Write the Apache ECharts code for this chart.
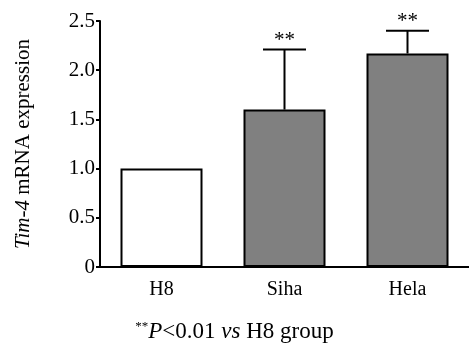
<!DOCTYPE html>
<html>
<head>
<meta charset="utf-8">
<script src="https://cdn.jsdelivr.net/npm/echarts@6/dist/echarts.min.js"></script>
<style>
html,body{margin:0;padding:0;background:#fff;}
#c{width:469px;height:346px;}
</style>
</head>
<body>
<div id="c"></div>
<script>
var categories = ['H8', 'Siha', 'Hela'];
var values = [1.0, 1.6, 2.17];
var errorsUp = [0, 0.61, 0.23];
var sigLabels = ['', '**', '**'];
var barColors = ['#ffffff', '#808080', '#808080'];
var yTickMin = 0, yTickMax = 2.5, yTickStep = 0.5;

var FONT = '"Liberation Serif", "Times New Roman", serif';
var chart = echarts.init(document.getElementById('c'));

var errData = categories.map(function (c, i) { return [i, values[i], errorsUp[i], sigLabels[i]]; });

chart.setOption({
  animation: false,
  backgroundColor: '#fff',
  grid: { left: 100, top: 21, bottom: 79, width: 372 },
  xAxis: {
    type: 'category',
    data: categories,
    axisLine: { lineStyle: { color: '#000', width: 2 } },
    axisTick: { show: false },
    axisLabel: { color: '#000', fontFamily: FONT, fontSize: 20, margin: 13 }
  },
  yAxis: {
    type: 'value',
    min: yTickMin, max: yTickMax, interval: yTickStep,
    splitLine: { show: false },
    axisLine: { show: true, lineStyle: { color: '#000', width: 2 } },
    axisTick: { show: true, length: 4, lineStyle: { color: '#000', width: 2 } },
    axisLabel: {
      color: '#000', fontFamily: FONT, fontSize: 21, margin: 5,
      formatter: function (v) { return v === 0 ? '0' : v.toFixed(1); }
    },
    name: '{i|Tim-4} mRNA expression',
    nameLocation: 'middle',
    nameRotate: 90,
    nameGap: 66,
    nameTextStyle: {
      color: '#000', fontFamily: FONT, fontSize: 21,
      rich: { i: { fontStyle: 'italic', fontFamily: FONT, fontSize: 21, color: '#000' } }
    }
  },
  series: [
    {
      type: 'bar',
      barWidth: 82,
      data: values.map(function (v, i) {
        return { value: v, itemStyle: { color: barColors[i], borderColor: '#000', borderWidth: 2 } };
      }),
      z: 2
    },
    {
      type: 'custom',
      data: errData,
      z: 3,
      renderItem: function (params, api) {
        var i = api.value(0), v = api.value(1), e = api.value(2);
        if (!e) return null;
        var p0 = api.coord([i, v]);
        var p1 = api.coord([i, v + e]);
        var half = 21.5;
        return {
          type: 'group',
          children: [
            { type: 'line', shape: { x1: p0[0], y1: p0[1], x2: p1[0], y2: p1[1] }, style: { stroke: '#000', lineWidth: 2 } },
            { type: 'line', shape: { x1: p1[0] - half, y1: p1[1], x2: p1[0] + half, y2: p1[1] }, style: { stroke: '#000', lineWidth: 2 } },
            { type: 'text', x: p1[0], y: p1[1] + 1, style: { text: sigLabels[params.dataIndex], fill: '#000', font: '21px ' + FONT, align: 'center', verticalAlign: 'bottom' } }
          ]
        };
      }
    }
  ],
  graphic: [
    {
      type: 'text',
      left: 'center',
      top: 320,
      style: {
        text: '{s|**}{i|P}<0.01 {i|vs} H8 group',
        fill: '#000',
        font: '23px ' + FONT,
        rich: {
          s: { fontSize: 13, fontFamily: FONT, verticalAlign: 'top', fill: '#000', padding: [0, 0, 10, 0] },
          i: { fontStyle: 'italic', fontSize: 23, fontFamily: FONT, fill: '#000' }
        }
      }
    }
  ]
});
</script>
</body>
</html>
